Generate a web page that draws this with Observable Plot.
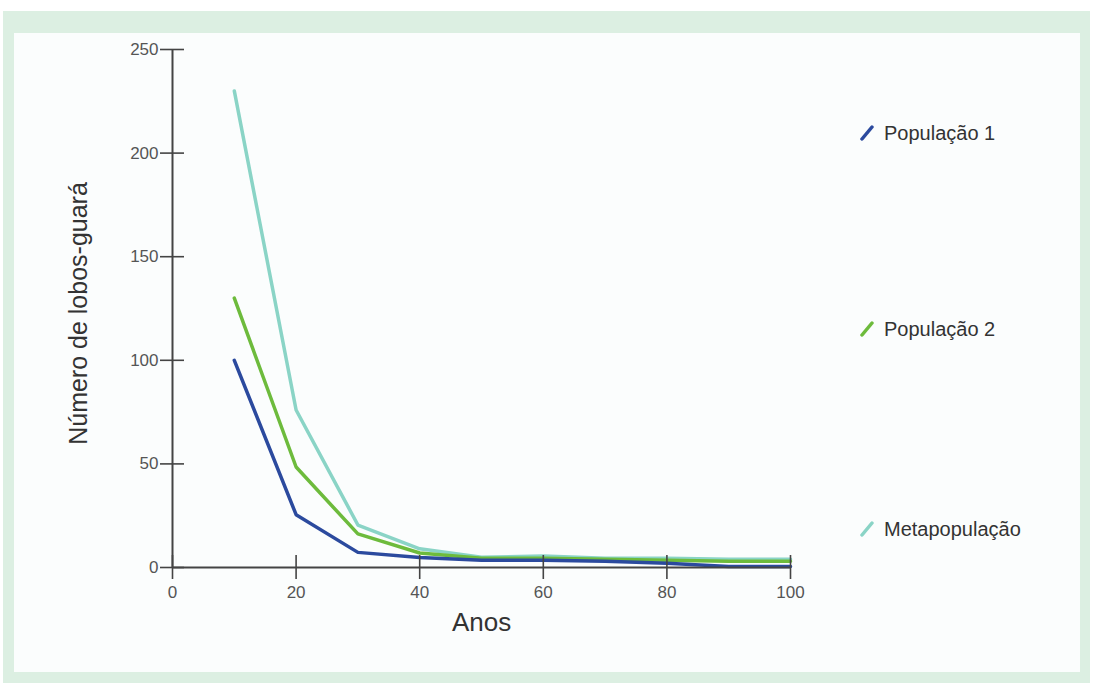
<!DOCTYPE html>
<html><head><meta charset="utf-8">
<script src="https://cdn.jsdelivr.net/npm/d3@7"></script>
<script src="https://cdn.jsdelivr.net/npm/@observablehq/plot@0.6"></script>
<style>
html,body{margin:0;padding:0;background:#fff;width:1094px;height:693px;overflow:hidden;font-family:Arial,"Liberation Sans",sans-serif}
#frame{position:absolute;left:3px;top:11px;width:1087px;height:672px;background:#dcefe2}
#panel{position:absolute;left:14px;top:33px;width:1066px;height:639px;background:#fbfdfd}
#chart{position:absolute;left:0;top:0}
.leg{position:absolute;left:860px;height:24px;font-size:20px;color:#333;display:flex;align-items:center;font-family:Arial,"Liberation Sans",sans-serif}
.leg svg{margin-right:10px}
</style></head><body>
<div id="frame"></div><div id="panel"></div><div id="chart"></div><div id="legend"></div>
<script>
const years = [10, 20, 30, 40, 50, 60, 70, 80, 90, 100];
const seriesNames = ["População 1", "População 2", "Metapopulação"];
const seriesColors = ["#2b4a9e", "#6dbb3c", "#8ad4c6"];
const populacao1 = [100, 25.5, 7.3, 4.8, 3.5, 3.5, 3, 2, 0.5, 0.5];
const populacao2 = [130, 48.5, 16.2, 7, 4.5, 4.5, 4, 3.5, 3, 3];
const metapopulacao = [230, 76, 20.5, 9, 5, 5.5, 4.5, 4.5, 4, 4];
const yTicks = [0, 50, 100, 150, 200, 250];
const xTicks = [0, 20, 40, 60, 80, 100];
const xTitle = "Anos";
const yTitle = "Número de lobos-guará";

const seriesValues = [populacao1, populacao2, metapopulacao];
const data = [];
// draw order: Metapopulação, População 2, População 1
[2, 1, 0].forEach(i => {
  years.forEach((yr, j) => data.push({series: seriesNames[i], year: yr, value: seriesValues[i][j]}));
});

const axisColor = "#444";
const chart = Plot.plot({
  width: 1094,
  height: 693,
  marginLeft: 172,
  marginRight: 304,
  marginTop: 49,
  marginBottom: 126,
  style: {background: "transparent", fontFamily: "Arial, 'Liberation Sans', sans-serif"},
  x: {domain: [0, 100]},
  y: {domain: [0, 250]},
  color: {domain: seriesNames, range: seriesColors},
  marks: [
    Plot.line(data, {x: "year", y: "value", z: "series", stroke: "series", strokeWidth: 3.5, strokeLinejoin: "round"}),
    Plot.ruleX([0], {stroke: axisColor, strokeWidth: 2}),
    Plot.ruleY([0], {stroke: axisColor, strokeWidth: 2}),
    Plot.axisY({ticks: yTicks, tickSize: 12, tickPadding: 2, fontSize: 17, color: "#555", stroke: axisColor, strokeWidth: 1.6, label: null}),
    Plot.axisY({ticks: yTicks, tickSize: 12, dx: 12, tickFormat: () => "", stroke: axisColor, strokeWidth: 1.6, label: null}),
    Plot.axisX({ticks: xTicks, tickSize: 12, tickPadding: 6, fontSize: 17, color: "#555", stroke: axisColor, strokeWidth: 1.6, label: null}),
    Plot.axisX({ticks: xTicks, tickSize: 12, dy: -12, tickFormat: () => "", stroke: axisColor, strokeWidth: 1.6, label: null}),
    Plot.text([yTitle], {frameAnchor: "left", textAnchor: "middle", lineAnchor: "middle", rotate: -90, dx: -94, dy: 5, fontSize: 25, fill: "#333"}),
    Plot.text([xTitle], {frameAnchor: "bottom", dy: 63, fontSize: 26, fill: "#333"})
  ]
});
document.getElementById("chart").appendChild(chart);

const legendTops = [121, 317, 517];
const legend = document.getElementById("legend");
seriesNames.forEach((name, i) => {
  const div = document.createElement("div");
  div.className = "leg";
  div.style.top = legendTops[i] + "px";
  div.innerHTML = `<svg width="14" height="16"><line x1="2" y1="14" x2="12" y2="2" stroke="${seriesColors[i]}" stroke-width="3.5" stroke-linecap="round"/></svg><span>${name}</span>`;
  legend.appendChild(div);
});
</script>
</body></html>
